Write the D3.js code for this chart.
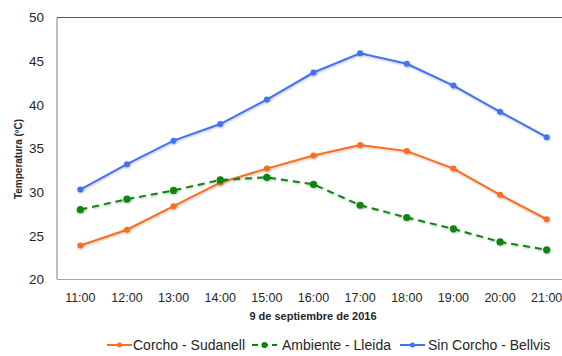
<!DOCTYPE html>
<html>
<head>
<meta charset="utf-8">
<script src="https://cdn.jsdelivr.net/npm/d3@7"></script>
<style>
  body { margin: 0; background: #fff; }
  text { font-family: "Liberation Sans", Arial, sans-serif; fill: #262626; }
</style>
</head>
<body>
<svg id="chart" width="562" height="356"></svg>
<script>
// ============== Data ==============
const hours = ['11:00', '12:00', '13:00', '14:00', '15:00', '16:00', '17:00', '18:00', '19:00', '20:00', '21:00'];
const yTicks = [20, 25, 30, 35, 40, 45, 50];
const corchoSudanell = [23.9, 25.7, 28.4, 31.1, 32.7, 34.2, 35.4, 34.7, 32.7, 29.7, 26.9];
const ambienteLleida = [28.0, 29.2, 30.2, 31.4, 31.7, 30.9, 28.5, 27.1, 25.8, 24.3, 23.4];
const sinCorchoBellvis = [30.3, 33.2, 35.9, 37.8, 40.6, 43.7, 45.9, 44.7, 42.2, 39.2, 36.3];

const series = [
  {name: 'Corcho - Sudanell', values: corchoSudanell, color: '#fd6e1a', dash: null, r: 3},
  {name: 'Ambiente - Lleida', values: ambienteLleida, color: '#0b860b', dash: '7,5', r: 3.6},
  {name: 'Sin Corcho - Bellvis', values: sinCorchoBellvis, color: '#4272f4', dash: null, r: 3}
];

const svg = d3.select('#chart');

// ============== Scales ==============
const plot = {left: 57, top: 17.5, right: 570, bottom: 279.5};

const x = d3.scalePoint()
  .domain(hours)
  .range([plot.left, plot.right])
  .padding(0.5);

const y = d3.scaleLinear()
  .domain([20, 50])
  .range([plot.bottom, plot.top]);

// soft shadow like the spreadsheet markers
const filter = svg.append('defs').append('filter')
  .attr('id', 'shadow')
  .attr('x', '-50%').attr('y', '-50%')
  .attr('width', '200%').attr('height', '200%');
filter.append('feDropShadow')
  .attr('dx', 0.6).attr('dy', 1)
  .attr('stdDeviation', 0.8)
  .attr('flood-color', '#000')
  .attr('flood-opacity', 0.25);

// ============== Frame ==============
svg.append('line')
  .attr('x1', plot.left).attr('x2', 562)
  .attr('y1', plot.top).attr('y2', plot.top)
  .attr('stroke', '#595959').attr('stroke-width', 1);

svg.append('line')
  .attr('x1', plot.left).attr('x2', plot.left)
  .attr('y1', plot.top).attr('y2', plot.bottom)
  .attr('stroke', '#7f7f7f').attr('stroke-width', 1);

svg.append('line')
  .attr('x1', plot.left).attr('x2', 562)
  .attr('y1', plot.bottom).attr('y2', plot.bottom)
  .attr('stroke', '#a6a6a6').attr('stroke-width', 1);

// ============== Axes labels ==============
svg.selectAll('.y-label')
  .data(yTicks)
  .enter()
  .append('text')
  .attr('class', 'y-label')
  .attr('x', 44)
  .attr('y', d => y(d))
  .attr('dy', '0.35em')
  .attr('text-anchor', 'end')
  .style('font-size', '13.5px')
  .text(d => d);

svg.selectAll('.x-label')
  .data(hours)
  .enter()
  .append('text')
  .attr('class', 'x-label')
  .attr('x', d => x(d))
  .attr('y', 298)
  .attr('dy', '0.35em')
  .attr('text-anchor', 'middle')
  .style('font-size', '12.5px')
  .text(d => d);

svg.append('text')
  .attr('transform', 'translate(22,159) rotate(-90)')
  .attr('text-anchor', 'middle')
  .style('font-size', '10px')
  .style('font-weight', 'bold')
  .text('Temperatura (ºC)');

svg.append('text')
  .attr('x', 313)
  .attr('y', 316)
  .attr('dy', '0.35em')
  .attr('text-anchor', 'middle')
  .style('font-size', '11px')
  .style('font-weight', 'bold')
  .text('9 de septiembre de 2016');

// ============== Lines ==============
const line = d3.line()
  .x((d, i) => x(hours[i]))
  .y(d => y(d));

series.forEach(s => {
  svg.append('path')
    .datum(s.values)
    .attr('d', line)
    .attr('fill', 'none')
    .attr('stroke', s.color)
    .attr('stroke-width', 2)
    .attr('stroke-dasharray', s.dash)
    .attr('filter', 'url(#shadow)');

  svg.selectAll(null)
    .data(s.values)
    .enter()
    .append('circle')
    .attr('cx', (d, i) => x(hours[i]))
    .attr('cy', d => y(d))
    .attr('r', s.r)
    .attr('fill', s.color)
    .attr('filter', 'url(#shadow)');
});

// ============== Legend ==============
const legendX = [107, 252, 400];
const legend = svg.selectAll('.legend')
  .data(series)
  .enter()
  .append('g')
  .attr('class', 'legend')
  .attr('transform', (d, i) => `translate(${legendX[i]},345)`);

legend.append('line')
  .attr('x1', 0).attr('x2', 25)
  .attr('stroke', d => d.color)
  .attr('stroke-width', 2)
  .attr('stroke-dasharray', d => d.dash ? '6,4' : null);

legend.append('circle')
  .attr('cx', 12.5)
  .attr('r', d => d.r - 0.5)
  .attr('fill', d => d.color);

legend.append('text')
  .attr('x', (d, i) => i === 0 ? 26 : (i === 1 ? 30 : 28))
  .attr('dy', '0.35em')
  .style('font-size', '14px')
  .text(d => d.name);
</script>
</body>
</html>
